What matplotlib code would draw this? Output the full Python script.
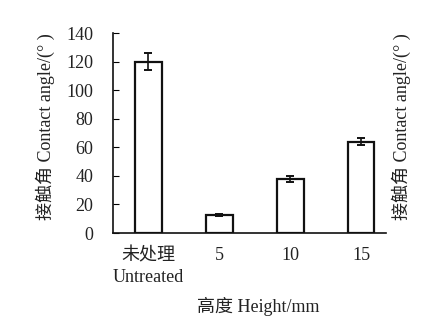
import matplotlib
matplotlib.use("Agg")
import matplotlib.pyplot as plt

categories = ["未处理\nUntreated", "5", "10", "15"]
values = [120, 12.5, 38, 64]
errors = [6, 0.6, 2, 2.5]
yticks = [0, 20, 40, 60, 80, 100, 120, 140]

fam = ["Liberation Serif", "Noto Sans CJK SC"]
plt.rcParams['font.family'] = fam
FS = 13
TC = "#222222"

fig = plt.figure(figsize=(4.33, 3.21), dpi=100)
ax = fig.add_axes([0.261, 0.274, 0.630, 0.623])
x = list(range(len(categories)))
ax.bar(x, values, width=0.38, color="white", edgecolor="#111111", linewidth=1.6,
       yerr=errors, capsize=3, error_kw=dict(ecolor="#111111", elinewidth=1.2, capthick=1.4))
ax.set_xlim(-0.5, 3.35)
ax.set_ylim(0, 140)
ax.set_yticks(yticks)
ax.set_xticks(x)
ax.set_xticklabels(categories, fontsize=FS, color=TC, linespacing=1.35)
ax.tick_params(axis='y', direction='in', length=4, labelsize=FS, labelcolor=TC, pad=14)
ax.tick_params(axis='x', length=0, pad=10)
for s in ["top", "right"]:
    ax.spines[s].set_visible(False)
for s in ["left", "bottom"]:
    ax.spines[s].set_linewidth(1.2)
    ax.spines[s].set_color("#111111")
fig.text(0.596, 0.045, "高度 Height/mm", fontsize=FS, color=TC, ha="center", va="center")
fig.text(0.105, 0.605, "接触角 Contact angle/(° )", rotation=90, fontsize=FS, color=TC,
         ha="center", va="center")
fig.text(0.928, 0.605, "接触角 Contact angle/(° )", rotation=90, fontsize=FS, color=TC,
         ha="center", va="center")
fig.savefig("out.png", dpi=100)
